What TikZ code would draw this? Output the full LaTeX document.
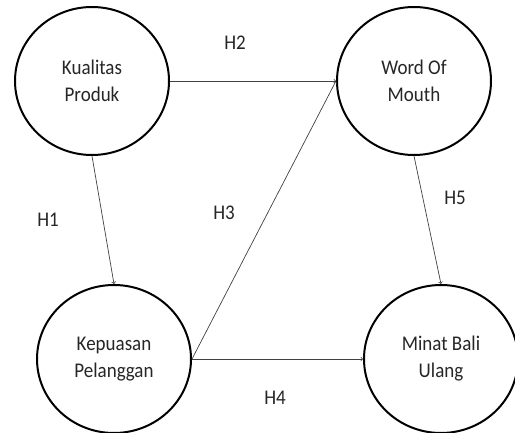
\documentclass[tikz,border=0pt]{standalone}
\usepackage{fontspec}
\setmainfont{Carlito}
\usepackage{tikz}
\usetikzlibrary{shapes.geometric}
\definecolor{ArrowGray}{rgb}{0.25,0.25,0.25}
\definecolor{TextGray}{rgb}{0.15,0.15,0.15}
\newcommand{\tall}[1]{\scalebox{1}[1.1]{#1}}

\begin{document}
\begin{tikzpicture}[x=1pt,y=1pt,
    var/.style={ellipse,draw,line width=2pt,minimum width=154pt,minimum height=148pt,inner sep=0pt,align=center,text=TextGray,font=\fontsize{19}{27}\selectfont},
    hyp/.style={text=TextGray,font=\fontsize{19}{22}\selectfont},
    link/.style={->,ArrowGray,line width=0.7pt}]
      \useasboundingbox (0,0) rectangle (515,432);
      \node[var] (kualitas) at (92,351) {\tall{Kualitas}\\\tall{Produk}};
      \node[var] (wom) at (414,351) {\tall{Word Of}\\\tall{Mouth}};
      \node[var] (kepuasan) at (114,73) {\tall{Kepuasan}\\\tall{Pelanggan}};
      \node[var] (minat) at (441,73) {\tall{Minat Bali}\\\tall{Ulang}};
      \draw[link] (kualitas.south) -- (kepuasan.north);
      \draw[link] (kualitas.east) -- (wom.west);
      \draw[link] (kepuasan.east) -- (wom.west);
      \draw[link] (kepuasan.east) -- (minat.west);
      \draw[link] (wom.south) -- (minat.north);
      \node[hyp] (h1) at (48,212) {\tall{H1}};
      \node[hyp] (h2) at (235,389) {\tall{H2}};
      \node[hyp] (h3) at (224,219) {\tall{H3}};
      \node[hyp] (h4) at (275,34) {\tall{H4}};
      \node[hyp] (h5) at (455,234) {\tall{H5}};
\end{tikzpicture}
\end{document}
